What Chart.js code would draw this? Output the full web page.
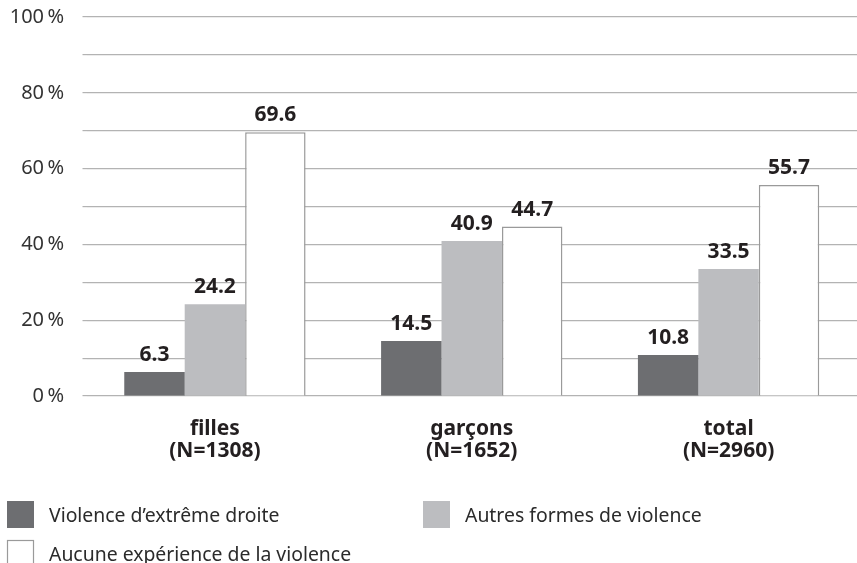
<!DOCTYPE html>
<html>
<head>
<meta charset="utf-8">
<script src="https://cdn.jsdelivr.net/npm/chart.js@4"></script>
<style>
  html, body { margin: 0; padding: 0; background: #fff; }
  canvas { display: block; }
</style>
</head>
<body>
<canvas id="grafico" width="857" height="563"></canvas>
<script>
// données
const categories = [['filles', '(N=1308)'], ['garçons', '(N=1652)'], ['total', '(N=2960)']];
const seriesNames = ['Violence d’extrême droite', 'Autres formes de violence', 'Aucune expérience de la violence'];
const extremeDroite = [6.3, 14.5, 10.8];
const autresFormes = [24.2, 40.9, 33.5];
const aucuneExperience = [69.6, 44.7, 55.7];

const couleurs = ['#6d6e71', '#bcbdc0', '#ffffff'];
const bordures = ['#6d6e71', '#bcbdc0', '#9a9a9a'];
const POLICE = '"Noto Sans", "Open Sans", sans-serif';

// valeurs au-dessus des barres
const etiquettes = {
    id: 'etiquettes',
    afterDatasetsDraw: function(chart) {
        const ctx = chart.ctx;
        ctx.save();
        ctx.font = 'bold 21px ' + POLICE;
        ctx.fillStyle = '#231f20';
        ctx.textAlign = 'center';
        ctx.textBaseline = 'alphabetic';
        chart.data.datasets.forEach(function(ds, i) {
            chart.getDatasetMeta(i).data.forEach(function(bar, j) {
                ctx.fillText(ds.data[j].toFixed(1), bar.x, bar.y - 11);
            });
        });
        ctx.restore();
    }
};

// légende en deux colonnes
const legende = {
    id: 'legende',
    afterDraw: function(chart) {
        const ctx = chart.ctx;
        const positions = [[7, 501], [423, 501], [7, 540]];
        ctx.save();
        ctx.font = '19.4px ' + POLICE;
        ctx.textBaseline = 'alphabetic';
        chart.data.datasets.forEach(function(ds, i) {
            const x = positions[i][0], y = positions[i][1];
            ctx.fillStyle = ds.backgroundColor;
            ctx.fillRect(x, y, 27, 27);
            if (ds.backgroundColor === '#ffffff') {
                ctx.strokeStyle = ds.borderColor;
                ctx.lineWidth = 1.2;
                ctx.strokeRect(x + 0.5, y + 0.5, 26, 26);
            }
            ctx.fillStyle = '#2b2b2b';
            ctx.fillText(ds.label, x + 42, y + 21);
        });
        ctx.restore();
    }
};

const donnees = [extremeDroite, autresFormes, aucuneExperience];

new Chart(document.getElementById('grafico').getContext('2d'), {
    type: 'bar',
    data: {
        labels: categories,
        datasets: donnees.map(function(valeurs, i) {
            return {
                label: seriesNames[i],
                data: valeurs,
                backgroundColor: couleurs[i],
                borderColor: bordures[i],
                borderWidth: i === 2 ? 1.5 : 0,
                categoryPercentage: 0.706,
                barPercentage: 1
            };
        })
    },
    options: {
        responsive: false,
        animation: false,
        layout: { padding: { top: 17, right: 0, bottom: 0, left: 0 } },
        plugins: {
            legend: { display: false },
            tooltip: { enabled: false }
        },
        scales: {
            x: {
                grid: { display: false, drawTicks: false },
                border: { display: false },
                ticks: {
                    padding: 22,
                    color: '#231f20',
                    font: { family: POLICE, size: 21, weight: 'bold', lineHeight: 1.05 },
                    maxRotation: 0
                },
                afterFit: function(scale) {
                    scale.height = 167;
                    scale.paddingLeft = 0;
                    scale.paddingRight = 0;
                }
            },
            y: {
                min: 0,
                max: 100,
                grid: { color: '#b3b3b3', lineWidth: 1.2, drawTicks: true, tickLength: 4 },
                border: { display: false },
                ticks: {
                    stepSize: 10,
                    padding: 18.5,
                    color: '#333333',
                    font: { family: POLICE, size: 20 },
                    callback: function(v) { return v % 20 === 0 ? v + '\u202F%' : ''; }
                },
                afterFit: function(scale) {
                    scale.width = 86.5;
                    scale.paddingTop = 0;
                    scale.paddingBottom = 0;
                }
            }
        }
    },
    plugins: [etiquettes, legende]
});
</script>
</body>
</html>
